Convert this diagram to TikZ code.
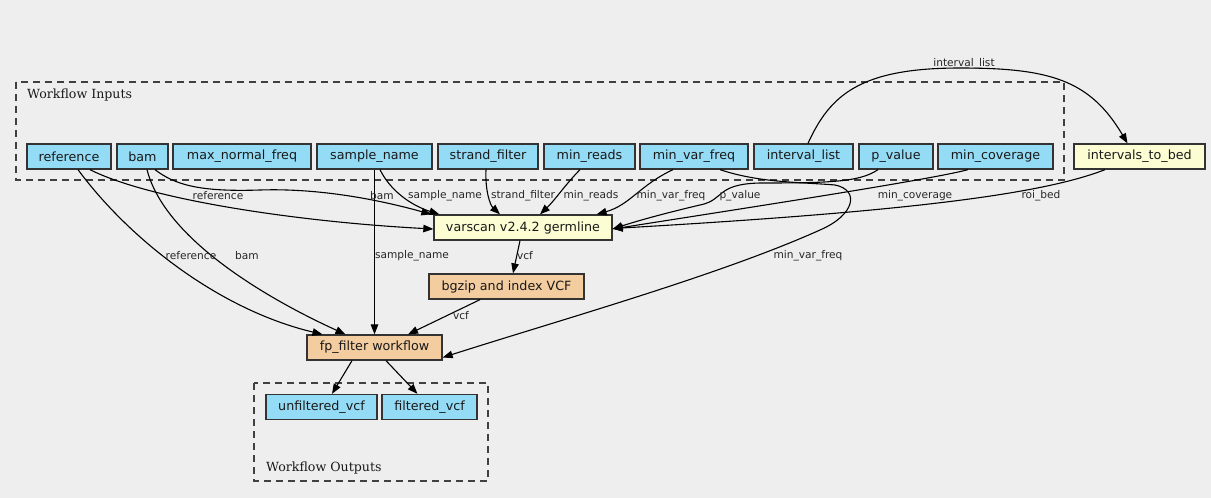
\documentclass[tikz,border=0pt]{standalone}
\usepackage{fontspec}
\setmainfont{DejaVu Sans}
\newfontfamily\clfont{DejaVu Serif}
\usetikzlibrary{arrows.meta}
\definecolor{bg}{HTML}{EEEEEE}
\definecolor{inblue}{HTML}{94DCF5}
\definecolor{toolyel}{HTML}{FDFDD4}
\definecolor{wforange}{HTML}{F3CD9F}
\tikzset{
  box/.style={draw=black!80, line width=1.3pt, inner sep=0pt, minimum height=25pt, font=\fontsize{12.7}{14}\selectfont, text=black!90},
  inbox/.style={box, fill=inblue},
  toolbox/.style={box, fill=toolyel},
  wfbox/.style={box, fill=wforange},
  cluster/.style={draw=black!75, line width=1.3pt, dash pattern=on 7pt off 5pt},
  cllabel/.style={font=\clfont\fontsize{12.6}{14}\selectfont, text=black!90, inner sep=0pt, anchor=west},
  elabel/.style={font=\fontsize{10.6}{12}\selectfont, text=black!85, inner sep=0pt},
  edge/.style={draw=black, line width=1.1pt, -{Triangle[length=10pt,width=7.5pt]}}
}
\begin{document}
\begin{tikzpicture}[x=1pt,y=-1pt]
\fill[bg] (0,0) rectangle (1211,498);
\useasboundingbox (0,0) rectangle (1211,498);
% clusters
\draw[cluster] (16,82) rectangle (1064,180);
\node[cllabel] (inlabel) at (27,95) {Workflow Inputs};
\draw[cluster] (254,383) rectangle (488,481);
\node[cllabel] (outlabel) at (266,468.5) {Workflow Outputs};
% input nodes
\node[inbox, minimum width=84pt] (reference) at (69,156.5) {reference};
\node[inbox, minimum width=51pt] (bam) at (142.5,156.5) {bam};
\node[inbox, minimum width=138pt] (maxnf) at (242,156.5) {max\_normal\_freq};
\node[inbox, minimum width=115pt] (sample) at (374.5,156.5) {sample\_name};
\node[inbox, minimum width=100pt] (strand) at (488,156.5) {strand\_filter};
\node[inbox, minimum width=91pt] (minreads) at (589.5,156.5) {min\_reads};
\node[inbox, minimum width=108pt] (minvf) at (694,156.5) {min\_var\_freq};
\node[inbox, minimum width=99pt] (intlist) at (803.5,156.5) {interval\_list};
\node[inbox, minimum width=74pt] (pvalue) at (896,156.5) {p\_value};
\node[inbox, minimum width=115pt] (mincov) at (995.5,156.5) {min\_coverage};
\node[toolbox, minimum width=131pt] (itb) at (1139.5,156.5) {intervals\_to\_bed};
% steps
\node[toolbox, minimum width=178pt] (varscan) at (523,227.5) {varscan v2.4.2 germline};
\node[wfbox, minimum width=155pt] (bgzip) at (506.5,286.5) {bgzip and index VCF};
\node[wfbox, minimum width=135pt] (fpf) at (374.5,347.5) {fp\_filter workflow};
% outputs
\node[inbox, minimum width=111pt] (unf) at (321.5,407) {unfiltered\_vcf};
\node[inbox, minimum width=95pt] (filt) at (429.5,407) {filtered\_vcf};
% edges to varscan
\draw[edge] ([xshift=21pt]reference.south) .. controls (150,200) and (300,222) .. ([yshift=-1.5pt]varscan.west);
\draw[edge] ([xshift=12.5pt]bam.south) .. controls (175,185) and (200,192) .. (260,190) .. controls (320,188) and (380,200) .. ([xshift=-2pt]varscan.north west);
\draw[edge] ([xshift=5.5pt]sample.south) .. controls (390,190) and (410,205) .. ([xshift=6pt]varscan.north west);
\draw[edge] ([xshift=-2pt]strand.south) .. controls (485,190) and (490,205) .. ([xshift=-23pt]varscan.north);
\draw[edge] ([xshift=-9.5pt]minreads.south) .. controls (565,185) and (555,200) .. ([xshift=17pt]varscan.north);
\draw[edge] ([xshift=-21pt]minvf.south) .. controls (640,185) and (630,205) .. ([xshift=-16pt]varscan.north east);
\draw[edge] ([xshift=-18pt]pvalue.south) .. controls (860,182) and (830,183) .. (760,183) .. controls (715,184) and (725,200) .. (700,205) .. controls (670,212) and (640,220) .. ([yshift=-1.5pt]varscan.east);
\draw[edge] ([xshift=-27.5pt]mincov.south) .. controls (930,180) and (720,212) .. ([yshift=-1.5pt]varscan.east);
\draw[edge] ([xshift=-34.5pt]itb.south) .. controls (1040,195) and (900,212) .. ([yshift=-1pt]varscan.east);
\draw[edge] ([xshift=4.5pt]intlist.north) .. controls (830,95) and (860,68) .. (960,68) .. controls (1050,68) and (1090,80) .. ([xshift=-12pt]itb.north);
% edges to fp_filter
\draw[edge] ([xshift=9pt]reference.south) .. controls (130,240) and (220,310) .. ([xshift=-52pt]fpf.north);
\draw[edge] ([xshift=4.5pt]bam.south) .. controls (165,240) and (270,300) .. ([xshift=-29pt]fpf.north);
\draw[edge] (sample.south) -- (fpf.north);
\draw[edge] ([xshift=26pt]minvf.south) .. controls (760,183) and (800,182) .. (835,185) .. controls (860,190) and (855,215) .. (820,230) .. controls (720,275) and (560,320) .. ([yshift=-10pt]fpf.east);
\draw[edge] ([xshift=-3pt]varscan.south) -- ([xshift=6.5pt]bgzip.north);
\draw[edge] ([xshift=-26.5pt]bgzip.south) -- ([xshift=33.5pt]fpf.north);
\draw[edge] ([xshift=-22.5pt]fpf.south) -- ([xshift=10.5pt]unf.north);
\draw[edge] ([xshift=11.5pt]fpf.south) -- ([xshift=-12pt]filt.north);
% edge labels
\node[elabel] (l1) at (218,196) {reference};
\node[elabel] (l2) at (382,196) {bam};
\node[elabel] (l3) at (445,196) {sample\_name};
\node[elabel] (l4) at (523,196) {strand\_filter};
\node[elabel] (l5) at (591,196) {min\_reads};
\node[elabel] (l6) at (671,196) {min\_var\_freq};
\node[elabel] (l7) at (740,196) {p\_value};
\node[elabel] (l8) at (915,196) {min\_coverage};
\node[elabel] (l9) at (1041,196) {roi\_bed};
\node[elabel] (l10) at (964,64) {interval\_list};
\node[elabel] (l11) at (191,256) {reference};
\node[elabel] (l12) at (247,256) {bam};
\node[elabel] (l13) at (412,256) {sample\_name};
\node[elabel] (l14) at (525,256) {vcf};
\node[elabel] (l15) at (461,316) {vcf};
\node[elabel] (l16) at (808,256) {min\_var\_freq};
\end{tikzpicture}
\end{document}
